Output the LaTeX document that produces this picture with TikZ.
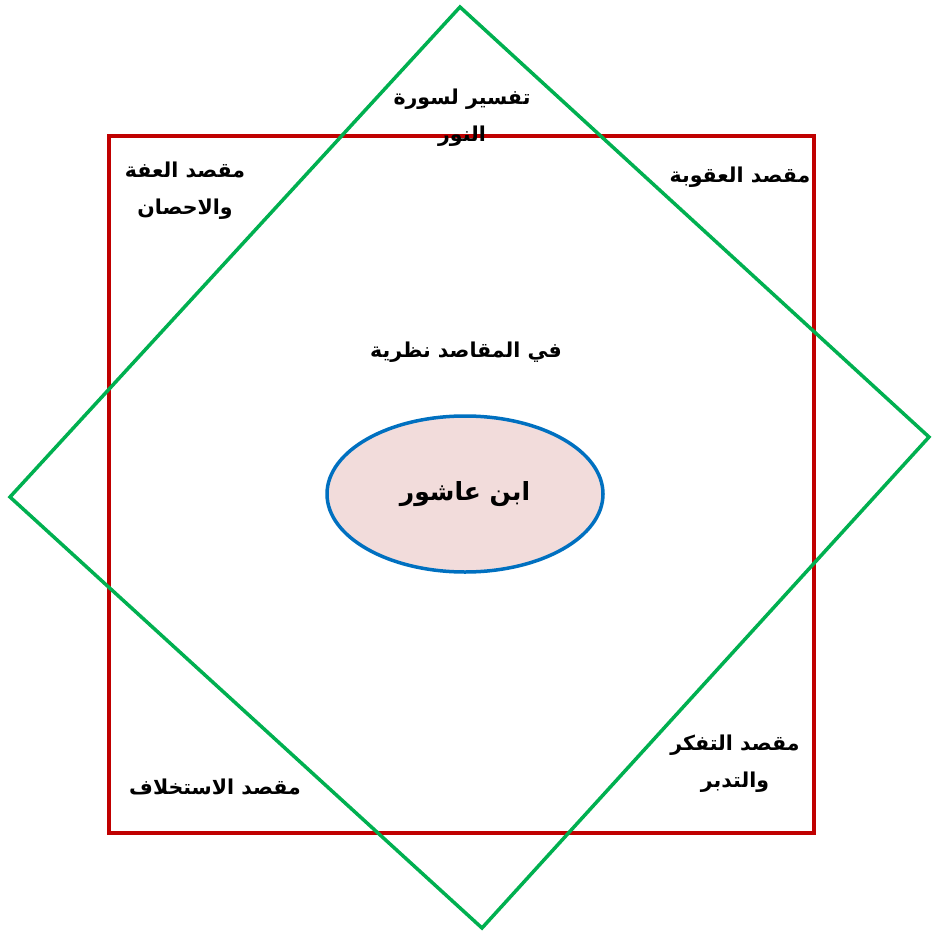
\documentclass[tikz,border=0pt]{standalone}
\usepackage{fontspec}
\usetikzlibrary{shapes.geometric}
\TeXXeTstate=1
\newfontfamily\arabicfont[Script=Arabic]{DejaVu Sans}
\definecolor{redline}{HTML}{C00000}
\definecolor{greenline}{HTML}{00B050}
\definecolor{blueline}{HTML}{0070C0}
\definecolor{pinkfill}{HTML}{F2DCDB}
\newcommand{\ar}[1]{\beginR #1\endR}
\tikzset{
  lbl/.style={font=\arabicfont\bfseries\fontsize{20.5}{37}\selectfont, align=center, inner sep=0pt},
}
\begin{document}
\begin{tikzpicture}[x=1pt,y=-1pt]
\useasboundingbox (0,0) rectangle (932,936);
\draw[redline, line width=4pt] (109,136) rectangle (814,833);
\coordinate (dt) at (460,7);
\coordinate (dr) at (929,437);
\coordinate (db) at (482,928);
\coordinate (dl) at (10,497);
\draw[greenline, line width=3.5pt, line join=miter] (dt) -- (dr) -- (db) -- (dl) -- cycle;
\node[ellipse, draw=blueline, fill=pinkfill, line width=3.5pt, minimum width=276pt, minimum height=156pt, inner sep=0pt] (core) at (465,494) {};
\node[lbl, font=\arabicfont\bfseries\fontsize{25}{37}\selectfont] (name) at (core) {\ar{ابن عاشور}};
\node[lbl] (theory) at (466,352) {\ar{في المقاصد نظرية}};
\node[lbl] (tafsir) at (462,118) {\ar{تفسير لسورة}\\\ar{النور}};
\node[lbl] (iffa) at (185,191) {\ar{مقصد العفة}\\\ar{والاحصان}};
\node[lbl] (uquba) at (740,177) {\ar{مقصد العقوبة}};
\node[lbl] (tafakkur) at (735,764) {\ar{مقصد التفكر}\\\ar{والتدبر}};
\node[lbl] (istikhlaf) at (215,787) {\ar{مقصد الاستخلاف}};
\end{tikzpicture}
\end{document}
